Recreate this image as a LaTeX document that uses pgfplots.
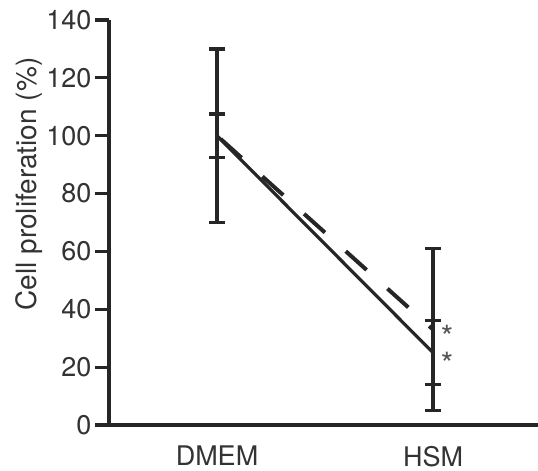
\documentclass[border=0pt]{standalone}
\usepackage{pgfplots}
\pgfplotsset{compat=1.18}
\usepackage{fontspec}
\setmainfont{TeX Gyre Heros}
\definecolor{ink}{HTML}{262626}
\definecolor{txt}{HTML}{333333}
\definecolor{ast}{HTML}{555555}
\begin{document}
\begin{tikzpicture}
\begin{axis}[
  name=ax,
  scale only axis,
  width=429pt, height=405pt,
  xmin=-0.5, xmax=1.486,
  ymin=0, ymax=140,
  axis x line*=bottom,
  axis y line*=left,
  axis line style={ink, line width=3.2pt},
  ytick={0,20,...,140},
  xtick={0,1},
  xticklabels={DMEM,HSM},
  tick align=outside,
  major tick length=14pt,
  major y tick style={ink, line width=3.2pt},
  major x tick style={draw=none},
  /pgf/number format/assume math mode=true,
  ticklabel style={font=\fontsize{27}{30}\selectfont, text=txt},
  yticklabel style={xshift=0pt},
  xticklabel style={inner sep=0pt, yshift=-7pt},
  ylabel={Cell proliferation (\%)},
  ylabel style={font=\fontsize{28}{30}\selectfont, text=txt, at={(ticklabel cs:0.595)}, yshift=-3pt},
  clip=false,
]
% solid series
\addplot[ink, line width=3.2pt, mark=none,
  error bars/.cd, y dir=both, y explicit,
  error bar style={line width=3.2pt, ink},
  error mark options={rotate=90, mark size=8pt, line width=3.2pt, ink}]
  coordinates {(0,100) +- (0,7.5) (1,25) +- (0,11)};
% dashed series
\addplot[ink, line width=4pt, mark=none, dash pattern=on 28pt off 28pt, dash phase=51pt,
  error bars/.cd, y dir=both, y explicit,
  error bar style={line width=3.2pt, ink, solid},
  error mark options={rotate=90, mark size=8pt, line width=3.2pt, ink, solid}]
  coordinates {(0,100) +- (0,30) (1,33) +- (0,28)};
\node[anchor=north west, inner sep=0pt, align=left, text=ast, font=\fontsize{32}{27}\selectfont] at (axis cs:1.035,34.6) {*\\*};
\end{axis}
\pgfresetboundingbox
\path ([xshift=-109pt,yshift=-46pt]ax.south west) rectangle ([yshift=20pt]ax.north east);
\end{tikzpicture}
\end{document}
